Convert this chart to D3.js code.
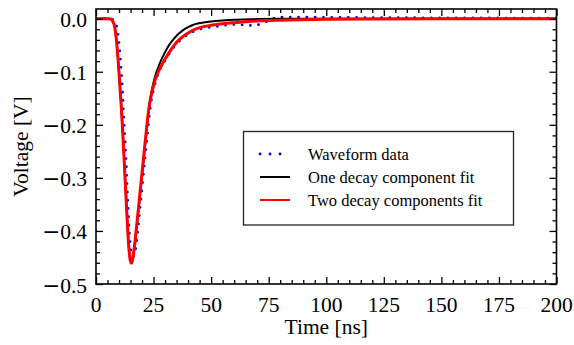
<!DOCTYPE html>
<html>
<head>
<meta charset="utf-8">
<script src="https://d3js.org/d3.v7.min.js"></script>
<style>
  body { margin: 0; background: #fff; }
  text { font-family: "Liberation Serif", "Times New Roman", serif; fill: #000; }
</style>
</head>
<body>
<svg width="574" height="345"></svg>
<script>
"use strict";

// measured waveform (time in ns, voltage in V)
var waveTime = [0, 2, 4, 6, 7, 7.5, 8, 8.5, 9, 9.5, 10, 10.5, 11, 11.5, 12, 12.5, 13, 13.5, 14, 14.5,
                15, 15.5, 16, 16.5, 17, 17.5, 18, 18.5, 19, 19.5, 20, 20.5, 21, 21.5, 22, 22.5, 23, 23.5,
                24, 25, 26, 27, 28, 29, 30, 32, 34, 36, 38, 40, 42, 45, 50, 55, 60, 65, 68, 70, 72, 75,
                77, 78.5, 85, 100, 120, 150, 175, 200];
var waveVolt = [0.0005, 0.0005, 0.0005, 0, -0.001, -0.002, -0.004, -0.008, -0.015, -0.028, -0.046, -0.070,
                -0.100, -0.137, -0.178, -0.219, -0.263, -0.314, -0.360, -0.403, -0.430, -0.445, -0.449,
                -0.447, -0.439, -0.426, -0.406, -0.384, -0.362, -0.341, -0.319, -0.297, -0.276, -0.254,
                -0.233, -0.211, -0.189, -0.171, -0.156, -0.134, -0.117, -0.104, -0.094, -0.086, -0.079,
                -0.065, -0.053, -0.043, -0.036, -0.030, -0.025, -0.020, -0.016, -0.013, -0.011, -0.012,
                -0.013, -0.012, -0.009, -0.004, 0.0, 0.003, 0.003, 0.0025, 0.002, 0.0015, 0.0012, 0.001];

// fitted curves share one time grid
var fitTime = [0, 2, 4, 5, 6, 6.5, 7, 7.5, 8, 8.5, 9, 9.5, 10, 10.5, 11, 11.5, 12, 12.5, 13, 13.5, 14, 14.5,
               15, 15.3, 15.6, 16, 16.5, 17, 17.5, 18, 18.5, 19, 19.5, 20, 21, 22, 23, 24, 25, 26, 27, 28,
               30, 32, 34, 36, 38, 40, 42, 45, 50, 55, 60, 70, 80, 90, 100, 120, 150, 200];
var oneDecay = [0, 0, 0, 0, -0.0005, -0.001, -0.003, -0.007, -0.013, -0.026, -0.046, -0.072, -0.102, -0.135,
                -0.168, -0.205, -0.247, -0.290, -0.333, -0.375, -0.415, -0.442, -0.456, -0.459, -0.458,
                -0.451, -0.437, -0.420, -0.400, -0.380, -0.359, -0.338, -0.317, -0.296, -0.253, -0.210,
                -0.170, -0.140, -0.120, -0.104, -0.092, -0.081, -0.063, -0.048, -0.037, -0.028, -0.021,
                -0.016, -0.012, -0.0085, -0.0055, -0.0035, -0.002, -0.0008, -0.0003, -0.0001, 0, 0, 0, 0];
var twoDecay = [0, 0, 0, 0, -0.0005, -0.001, -0.003, -0.007, -0.013, -0.026, -0.046, -0.072, -0.102, -0.135,
                -0.168, -0.205, -0.247, -0.290, -0.333, -0.375, -0.415, -0.443, -0.458, -0.461, -0.459,
                -0.451, -0.436, -0.418, -0.397, -0.376, -0.355, -0.333, -0.311, -0.290, -0.247, -0.205,
                -0.168, -0.144, -0.126, -0.112, -0.101, -0.092, -0.076, -0.062, -0.050, -0.040, -0.033,
                -0.027, -0.022, -0.017, -0.0125, -0.0095, -0.0075, -0.0045, -0.003, -0.002, -0.0012,
                -0.0006, -0.0002, 0];

var xMajor = [0, 25, 50, 75, 100, 125, 150, 175, 200];
var yMajor = [-0.5, -0.4, -0.3, -0.2, -0.1, 0.0];
var legendLabels = ["Waveform data", "One decay component fit", "Two decay components fit"];

var svg = d3.select("svg"),
    pLeft = 96, pRight = 556.5, pTop = 9, pBottom = 284;

var x = d3.scaleLinear().domain([0, 200]).range([pLeft, pRight]);
var y = d3.scaleLinear().domain([-0.5, 0.0182]).range([pBottom, pTop]);

var xMinor = d3.range(0, 201, 5).filter(v => v % 25 !== 0);
var yMinor = d3.range(-0.5, 0.0001, 0.02).filter(v => Math.abs(Math.round(v * 10) - v * 10) > 0.01);

svg.append("clipPath").attr("id", "plotclip")
  .append("rect")
    .attr("x", pLeft).attr("y", pTop)
    .attr("width", pRight - pLeft).attr("height", pBottom - pTop);

var plot = svg.append("g").attr("clip-path", "url(#plotclip)");

var line = d3.line()
    .x(d => x(d[0]))
    .y(d => y(d[1]))
    .curve(d3.curveMonotoneX);

plot.append("path")
    .datum(d3.zip(waveTime, waveVolt))
    .attr("d", line)
    .attr("fill", "none")
    .attr("stroke", "#0000ff")
    .attr("stroke-width", 2.8)
    .attr("stroke-linecap", "round")
    .attr("stroke-dasharray", "0 8.3");

plot.append("path")
    .datum(d3.zip(fitTime, oneDecay))
    .attr("d", line)
    .attr("fill", "none")
    .attr("stroke", "#000")
    .attr("stroke-width", 2);

plot.append("path")
    .datum(d3.zip(fitTime, twoDecay))
    .attr("d", line)
    .attr("fill", "none")
    .attr("stroke", "#ff0000")
    .attr("stroke-width", 3);

// ticks, pointing inwards on all four sides
function ticks(axis, vals, size, transform) {
  var g = svg.append("g")
      .attr("transform", transform)
      .call(axis.tickValues(vals).tickSize(size).tickFormat(""));
  g.select(".domain").remove();
  g.selectAll(".tick line").attr("stroke", "#000").attr("stroke-width", 1.3);
  g.selectAll(".tick text").remove();
}
ticks(d3.axisBottom(x), xMajor, -7, "translate(0," + pBottom + ")");
ticks(d3.axisBottom(x), xMinor, -4, "translate(0," + pBottom + ")");
ticks(d3.axisTop(x), xMajor, -7, "translate(0," + pTop + ")");
ticks(d3.axisTop(x), xMinor, -4, "translate(0," + pTop + ")");
ticks(d3.axisLeft(y), yMajor, -7, "translate(" + pLeft + ",0)");
ticks(d3.axisLeft(y), yMinor, -4, "translate(" + pLeft + ",0)");
ticks(d3.axisRight(y), yMajor, -7, "translate(" + pRight + ",0)");
ticks(d3.axisRight(y), yMinor, -4, "translate(" + pRight + ",0)");

svg.append("rect")
    .attr("x", pLeft).attr("y", pTop)
    .attr("width", pRight - pLeft).attr("height", pBottom - pTop)
    .attr("fill", "none")
    .attr("stroke", "#000")
    .attr("stroke-width", 1.6);

// tick labels
svg.append("g").selectAll("text")
  .data(xMajor)
  .enter().append("text")
    .attr("x", d => x(d))
    .attr("y", pBottom + 28)
    .attr("text-anchor", "middle")
    .style("font-size", "21.5px")
    .text(d => d);

var ylab = svg.append("g").selectAll("text")
  .data(yMajor)
  .enter().append("text")
    .attr("x", pLeft - 9)
    .attr("y", d => y(d) + 8.5)
    .attr("text-anchor", "end")
    .style("font-size", "21.5px");
ylab.filter(d => d < 0).append("tspan")
    .style("font-family", "DejaVu Sans")
    .text("\u2212");
ylab.append("tspan").text(d => Math.abs(d).toFixed(1));

// axis titles
svg.append("text")
    .attr("x", (pLeft + pRight) / 2)
    .attr("y", 334)
    .attr("text-anchor", "middle")
    .style("font-size", "21.5px")
    .text("Time [ns]");

svg.append("text")
    .attr("transform", "translate(27.5," + (pTop + pBottom) / 2 + ") rotate(-90)")
    .attr("text-anchor", "middle")
    .style("font-size", "21.5px")
    .text("Voltage [V]");

// legend
var legend = svg.append("g");
legend.append("rect")
    .attr("x", 243.5).attr("y", 131.5)
    .attr("width", 270).attr("height", 93.5)
    .attr("fill", "#fff")
    .attr("stroke", "#222")
    .attr("stroke-width", 1.3);

var rows = [154, 177, 200];
legend.append("line")
    .attr("x1", 260).attr("x2", 281).attr("y1", rows[0]).attr("y2", rows[0])
    .attr("stroke", "#0000ff").attr("stroke-width", 2.8)
    .attr("stroke-linecap", "round").attr("stroke-dasharray", "0 10");
legend.append("line")
    .attr("x1", 260).attr("x2", 290).attr("y1", rows[1]).attr("y2", rows[1])
    .attr("stroke", "#000").attr("stroke-width", 2);
legend.append("line")
    .attr("x1", 260).attr("x2", 290).attr("y1", rows[2]).attr("y2", rows[2])
    .attr("stroke", "#ff0000").attr("stroke-width", 2);

legend.selectAll("text.lab")
  .data(legendLabels)
  .enter().append("text")
    .attr("class", "lab")
    .attr("x", 308)
    .attr("y", (d, i) => rows[i] + 6)
    .style("font-size", "16.5px")
    .text(d => d);
</script>
</body>
</html>
